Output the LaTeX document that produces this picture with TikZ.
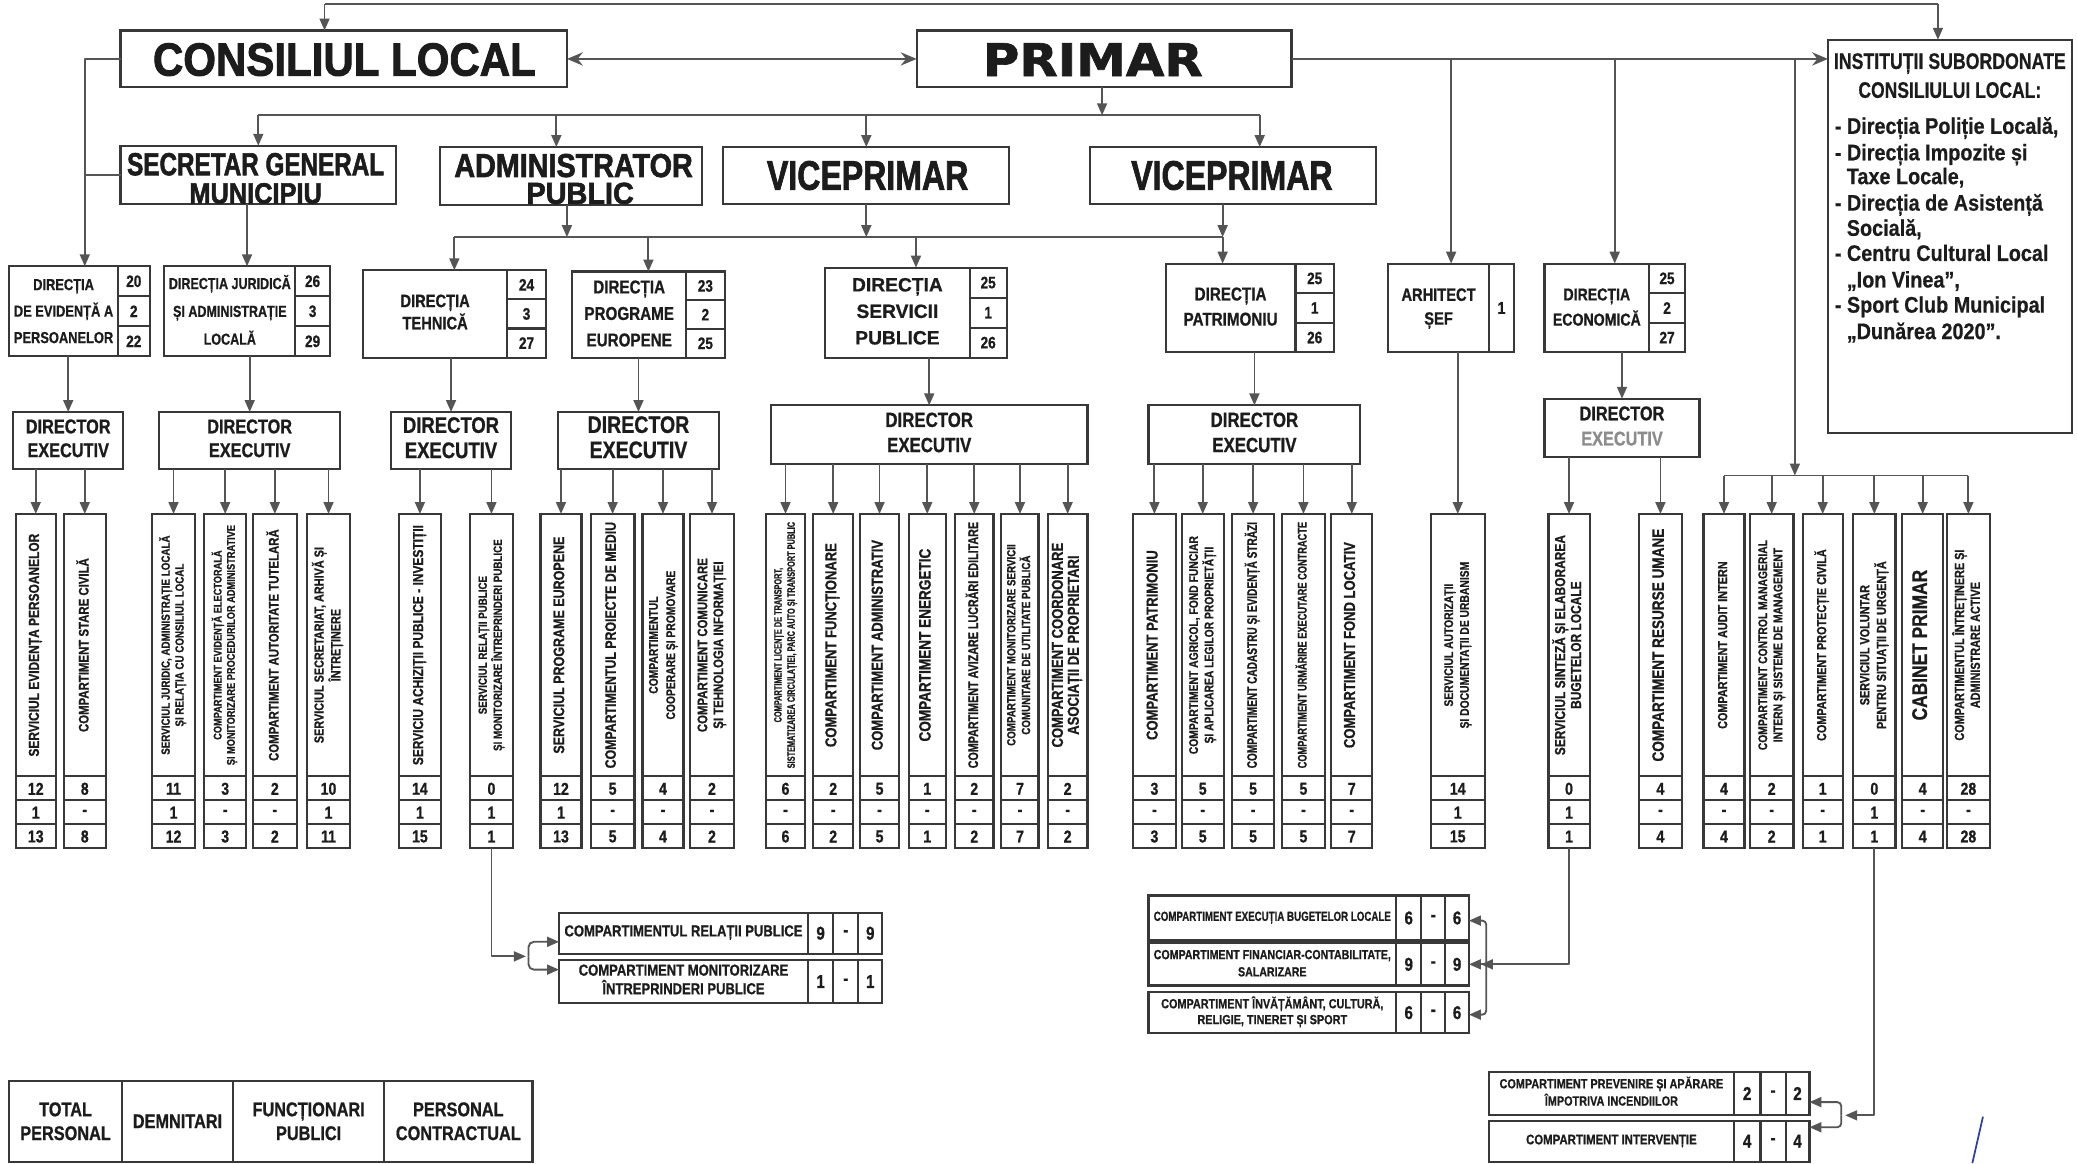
\documentclass[tikz,border=0pt]{standalone}
\usepackage{fontspec}
\setmainfont{Liberation Sans Bold}[FakeStretch=0.82,FakeBold=0.8,BoldFont=Liberation Sans Bold,BoldFeatures={FakeStretch=0.82,FakeBold=0.8}]
\newfontfamily\wid{Liberation Sans Bold}[FakeBold=0.8,BoldFont=Liberation Sans Bold,BoldFeatures={FakeBold=0.8}]
\newfontfamily\nar{Liberation Sans Bold}[FakeStretch=0.88,FakeBold=0.6,BoldFont=Liberation Sans Bold,BoldFeatures={FakeStretch=0.88,FakeBold=0.6}]
\newfontfamily\ttl{Liberation Sans Bold}[FakeBold=2,BoldFont=Liberation Sans Bold,BoldFeatures={FakeBold=2}]
\newfontfamily\dvs{DejaVu Sans Bold}[FakeBold=1.5,BoldFont=DejaVu Sans Bold,BoldFeatures={FakeBold=1.5}]
\usetikzlibrary{arrows.meta,calc}
\definecolor{lc}{HTML}{555555}
\definecolor{bc}{HTML}{383838}
\definecolor{tc}{HTML}{1c1c1c}
\definecolor{pen}{HTML}{2f3f9f}
\newsavebox\fitsave
\newcommand\fitw[2]{\sbox\fitsave{\begin{tabular}{@{}c@{}}#2\end{tabular}}\ifdim\wd\fitsave>#1\relax\resizebox*{#1}{\totalheight}{\usebox\fitsave}\else\usebox\fitsave\fi}
\newcommand\fitx[2]{\sbox\fitsave{#2}\resizebox*{#1}{\totalheight}{\usebox\fitsave}}
\def\numsplit#1,#2,#3\relax{\def\nA{#1}\def\nB{#2}\def\nC{#3}}
\tikzset{
  box/.style={draw=bc,line width=1.6pt,inner sep=0pt,outer sep=0pt,fill=white},
  bline/.style={draw=bc,line width=1.6pt},
  ln/.style={draw=lc,line width=1.4pt,line join=round},
  arr/.style={ln,-{Triangle[length=9pt,width=7.5pt]}},
  txt/.style={inner sep=0pt,text=tc,font=\bfseries},
  num/.style={txt,font=\bfseries\fontsize{13}{13}\selectfont},
}
% vertical box: name x1 x2 font text n1 n2 n3
\newcommand\vertbox[8]{%
  \pgfmathsetmacro\vbxc{(#2+#3)/2}%
  \pgfmathsetmacro\vbxw{#3-#2}%
  \node[box,minimum width=\vbxw pt,minimum height=252pt] (#1) at (\vbxc,514) {};
  \draw[bline] (#2,586) -- (#3,586) (#2,604) -- (#3,604) (#2,622) -- (#3,622);
  \node[txt,rotate=90] at (\vbxc,487) {#4\fitw{186pt}{#5}};
  \node[num] at (\vbxc,595.5) {#6};
  \node[num] at (\vbxc,613.5) {#7};
  \node[num] at (\vbxc,631.5) {#8};
}
% direction box: name x1 y1 x2 y2 xdiv font text nums
\newcommand\dirbox[9]{%
  \pgfmathsetmacro\dbw{#4-#2}\pgfmathsetmacro\dbh{#5-#3}%
  \pgfmathsetmacro\dbx{(#2+#4)/2}\pgfmathsetmacro\dby{(#3+#5)/2}%
  \pgfmathsetmacro\dbt{(#2+#6)/2}\pgfmathsetmacro\dbn{(#6+#4)/2}%
  \pgfmathsetmacro\dbtw{#6-#2-7}%
  \pgfmathsetmacro\dbya{#3+\dbh/3}\pgfmathsetmacro\dbyb{#3+2*\dbh/3}%
  \pgfmathsetmacro\dna{#3+\dbh/6}\pgfmathsetmacro\dnb{#3+\dbh/2}\pgfmathsetmacro\dnc{#3+5*\dbh/6}%
  \node[box,minimum width=\dbw pt,minimum height=\dbh pt] (#1) at (\dbx,\dby) {};
  \draw[bline] (#6,#3) -- (#6,#5) (#6,\dbya) -- (#4,\dbya) (#6,\dbyb) -- (#4,\dbyb);
  \node[txt] at (\dbt,\dby) {#7\fitw{\dbtw pt}{#8}};
  \numsplit#9\relax
  \node[txt,font=\bfseries\fontsize{12.5}{12.5}\selectfont] at (\dbn,\dna) {\nA};
  \node[txt,font=\bfseries\fontsize{12.5}{12.5}\selectfont] at (\dbn,\dnb) {\nB};
  \node[txt,font=\bfseries\fontsize{12.5}{12.5}\selectfont] at (\dbn,\dnc) {\nC};
}
% director box: name x1 y1 x2 y2 font
\newcommand\dexec[6]{%
  \pgfmathsetmacro\dew{#4-#2}\pgfmathsetmacro\deh{#5-#3}%
  \pgfmathsetmacro\dex{(#2+#4)/2}\pgfmathsetmacro\dey{(#3+#5)/2}%
  \node[box,minimum width=\dew pt,minimum height=\deh pt] (#1) at (\dex,\dey) {};
  \node[txt] at (\dex,\dey) {#6\begin{tabular}{@{}c@{}}DIRECTOR\\EXECUTIV\end{tabular}};
}
% horizontal box: name x1 y1 x2 y2 divs font text num
\newcommand\hbx[9]{%
  \pgfmathsetmacro\hbw{#4-#2}\pgfmathsetmacro\hbh{#5-#3}%
  \pgfmathsetmacro\hbcx{(#2+#4)/2}\pgfmathsetmacro\hbcy{(#3+#5)/2}%
  \node[box,minimum width=\hbw pt,minimum height=\hbh pt] (#1) at (\hbcx,\hbcy) {};
  \numsplit#6\relax
  \draw[bline] (\nA,#3) -- (\nA,#5) (\nB,#3) -- (\nB,#5) (\nC,#3) -- (\nC,#5);
  \pgfmathsetmacro\hbt{(#2+\nA)/2}\pgfmathsetmacro\hbtw{\nA-#2-8}%
  \pgfmathsetmacro\hna{(\nA+\nB)/2}\pgfmathsetmacro\hnb{(\nB+\nC)/2}\pgfmathsetmacro\hnc{(\nC+#4)/2}%
  \node[txt] at (\hbt,\hbcy) {#7\fitw{\hbtw pt}{#8}};
  \node[txt,font=\bfseries\fontsize{14}{14}\selectfont] at (\hna,\hbcy) {#9};
  \node[txt,font=\bfseries\fontsize{14}{14}\selectfont] at (\hnb,\hbcy) {-};
  \node[txt,font=\bfseries\fontsize{14}{14}\selectfont] at (\hnc,\hbcy) {#9};
}
\begin{document}
\begin{tikzpicture}[x=1pt,y=-1pt]
\useasboundingbox (0,0) rectangle (1568,878);
\fill[white] (0,0) rectangle (1568,878);

% ---------- top level ----------
\node[box,minimum width=337pt,minimum height=43pt] (cl) at (259.5,44.5) {};
\node[txt] at (260,45) {\ttl\fontsize{35}{35}\selectfont\fitx{289pt}{CONSILIUL LOCAL}};
\node[box,minimum width=283pt,minimum height=43pt] (pr) at (833.5,44.5) {};
\node[txt] at (825,45) {\dvs\fontsize{34}{34}\selectfont\fitx{166pt}{PRIMAR}};
\node[box,minimum width=184pt,minimum height=297pt] (inst) at (1472,178.5) {};
\node[txt] at (1472,48) {\nar\fontsize{17}{17}\selectfont\fitx{175pt}{INSTITUȚII SUBORDONATE}};
\node[txt] at (1472,68) {\nar\fontsize{17}{17}\selectfont\fitx{138pt}{CONSILIULUI LOCAL:}};
\tikzset{il/.style={txt,anchor=base west,font=\nar\bfseries\fontsize{17}{17}\selectfont}}
\node[il] at (1385,101) {- Direcția Poliție Locală,};
\node[il] at (1385,121) {- Direcția Impozite și};
\node[il] at (1394,139) {Taxe Locale,};
\node[il] at (1385,159) {- Direcția de Asistență};
\node[il] at (1394,178) {Socială,};
\node[il] at (1385,197) {- Centru Cultural Local};
\node[il] at (1394,217) {„Ion Vinea”,};
\node[il] at (1385,236) {- Sport Club Municipal};
\node[il] at (1394,256) {„Dunărea 2020”.};

% ---------- second level ----------
\node[box,minimum width=208pt,minimum height=44pt] (sg) at (195,132) {};
\node[txt] at (193,124) {\ttl\fontsize{24}{24}\selectfont\fitx{194pt}{SECRETAR GENERAL}};
\node[txt] at (193,146) {\ttl\fontsize{22}{22}\selectfont\fitx{100pt}{MUNICIPIU}};
\node[box,minimum width=198pt,minimum height=44pt] (ap) at (431,133) {};
\node[txt] at (433,125) {\ttl\fontsize{25}{25}\selectfont\fitx{180pt}{ADMINISTRATOR}};
\node[txt] at (438,146) {\ttl\fontsize{23}{23}\selectfont\fitx{81pt}{PUBLIC}};
\node[box,minimum width=216pt,minimum height=43pt] (v1) at (654,132.5) {};
\node[txt] at (655,132.5) {\ttl\fontsize{31}{31}\selectfont\fitx{152pt}{VICEPRIMAR}};
\node[box,minimum width=216pt,minimum height=43pt] (v2) at (931,132.5) {};
\node[txt] at (930,132.5) {\ttl\fontsize{31}{31}\selectfont\fitx{152pt}{VICEPRIMAR}};

% ---------- directions ----------
\dirbox{d1}{7}{201}{113}{269}{89}{\fontsize{12}{20}\selectfont}{DIRECȚIA\\DE EVIDENȚĂ A\\PERSOANELOR}{20,2,22}
\dirbox{d2}{124}{201}{249}{269}{223}{\fontsize{12}{21}\selectfont}{DIRECȚIA JURIDICĂ\\ȘI ADMINISTRAȚIE\\LOCALĂ}{26,3,29}
\dirbox{d3}{274}{204}{412}{270}{383}{\fontsize{13.5}{16}\selectfont}{DIRECȚIA\\TEHNICĂ}{24,3,27}
\dirbox{d4}{432}{205}{547}{270}{518}{\fontsize{14}{20}\selectfont}{DIRECȚIA\\PROGRAME\\EUROPENE}{23,2,25}
\dirbox{d5}{623}{202}{760}{270}{732}{\wid\fontsize{14.5}{20}\selectfont}{DIRECȚIA\\SERVICII\\PUBLICE}{25,1,26}
\dirbox{d6}{880}{199}{1007}{266}{978}{\fontsize{14}{19}\selectfont}{DIRECȚIA\\PATRIMONIU}{25,1,26}
\dirbox{d8}{1166}{199}{1272}{266}{1245}{\fontsize{13}{19}\selectfont}{DIRECȚIA\\ECONOMICĂ}{25,2,27}
\node[box,minimum width=95pt,minimum height=67pt] (d7) at (1095.5,232.5) {};
\draw[bline] (1124,199) -- (1124,266);
\node[txt] at (1086,232.5) {\fontsize{13.5}{18}\selectfont\fitw{70pt}{ARHITECT\\ȘEF}};
\node[txt,font=\bfseries\fontsize{13}{13}\selectfont] at (1133.5,232.5) {1};

% ---------- directors ----------
\dexec{e1}{10}{311}{93}{354}{\fontsize{15}{18}\selectfont}
\dexec{e2}{120}{311}{257}{354}{\fontsize{15}{18}\selectfont}
\dexec{e3}{295}{311}{386}{354}{\fontsize{17}{19}\selectfont}
\dexec{e4}{421}{311}{543}{354}{\fontsize{18}{19}\selectfont}
\dexec{e5}{582}{306}{821}{350}{\fontsize{15.5}{19}\selectfont}
\dexec{e6}{867}{306}{1027}{350}{\fontsize{15.5}{19}\selectfont}
\node[box,minimum width=117pt,minimum height=44pt] (e7) at (1224.5,323) {};
\node[txt] at (1224.5,323) {\fontsize{15}{19}\selectfont\begin{tabular}{@{}c@{}}DIRECTOR\\\textcolor{black!45}{EXECUTIV}\end{tabular}};

% ---------- vertical boxes ----------
\vertbox{A1}{12}{42}{\fontsize{11}{12}\selectfont}{SERVICIUL EVIDENȚA PERSOANELOR}{12}{1}{13}
\vertbox{A2}{48}{80}{\fontsize{10.5}{12}\selectfont}{COMPARTIMENT STARE CIVILĂ}{8}{-}{8}
\vertbox{B1}{115}{147}{\fontsize{9}{10.5}\selectfont}{SERVICIUL JURIDIC, ADMINISTRAȚIE LOCALĂ\\ȘI RELAȚIA CU CONSILIUL LOCAL}{11}{1}{12}
\vertbox{B2}{154}{186}{\fontsize{8.5}{10}\selectfont}{COMPARTIMENT EVIDENȚĂ ELECTORALĂ\\ȘI MONITORIZARE PROCEDURILOR ADMINISTRATIVE}{3}{-}{3}
\vertbox{B3}{191}{224}{\fontsize{10.5}{12}\selectfont}{COMPARTIMENT AUTORITATE TUTELARĂ}{2}{-}{2}
\vertbox{B4}{232}{264}{\fontsize{10}{12}\selectfont}{SERVICIUL SECRETARIAT, ARHIVĂ ȘI\\ÎNTREȚINERE}{10}{1}{11}
\vertbox{C1}{301}{333}{\fontsize{11}{12}\selectfont}{SERVICIU ACHIZIȚII PUBLICE - INVESTIȚII}{14}{1}{15}
\vertbox{C2}{355}{387}{\fontsize{9}{11}\selectfont}{SERVICIUL RELAȚII PUBLICE\\ȘI MONITORIZARE ÎNTREPRINDERI PUBLICE}{0}{1}{1}
\vertbox{D1}{408}{439}{\fontsize{11.5}{12}\selectfont}{SERVICIUL PROGRAME EUROPENE}{12}{1}{13}
\vertbox{D2}{446}{479}{\fontsize{11.5}{12}\selectfont}{COMPARTIMENTUL PROIECTE DE MEDIU}{5}{-}{5}
\vertbox{D3}{485}{516}{\fontsize{9.5}{13}\selectfont}{COMPARTIMENTUL\\COOPERARE ȘI PROMOVARE}{4}{-}{4}
\vertbox{D4}{521}{554}{\fontsize{10.5}{12}\selectfont}{COMPARTIMENT COMUNICARE\\ȘI TEHNOLOGIA INFORMAȚIEI}{2}{-}{2}
\vertbox{E1}{578}{608}{\fontsize{8}{10}\selectfont}{COMPARTIMENT LICENȚE DE TRANSPORT,\\SISTEMATIZAREA CIRCULAȚIEI, PARC AUTO ȘI TRANSPORT PUBLIC}{6}{-}{6}
\vertbox{E2}{614}{644}{\fontsize{12}{12}\selectfont}{COMPARTIMENT FUNCȚIONARE}{2}{-}{2}
\vertbox{E3}{649}{679}{\fontsize{12}{12}\selectfont}{COMPARTIMENT ADMINISTRATIV}{5}{-}{5}
\vertbox{E4}{686}{714}{\fontsize{12.5}{12}\selectfont}{COMPARTIMENT ENERGETIC}{1}{-}{1}
\vertbox{E5}{721}{750}{\fontsize{10.5}{12}\selectfont}{COMPARTIMENT AVIZARE LUCRĂRI EDILITARE}{2}{-}{2}
\vertbox{E6}{756}{784}{\fontsize{9}{10.5}\selectfont}{COMPARTIMENT MONITORIZARE SERVICII\\COMUNITARE DE UTILITATE PUBLICĂ}{7}{-}{7}
\vertbox{E7}{791}{821}{\fontsize{12}{12}\selectfont}{COMPARTIMENT COORDONARE\\ASOCIAȚII DE PROPRIETARI}{2}{-}{2}
\vertbox{F1}{855}{888}{\fontsize{12}{12}\selectfont}{COMPARTIMENT PATRIMONIU}{3}{-}{3}
\vertbox{F2}{892}{924}{\fontsize{9.5}{11}\selectfont}{COMPARTIMENT AGRICOL, FOND FUNCIAR\\ȘI APLICAREA LEGILOR PROPRIETĂȚII}{5}{-}{5}
\vertbox{F3}{930}{962}{\fontsize{10.5}{12}\selectfont}{COMPARTIMENT CADASTRU ȘI EVIDENȚĂ STRĂZI}{5}{-}{5}
\vertbox{F4}{968}{1000}{\fontsize{9.5}{12}\selectfont}{COMPARTIMENT URMĂRIRE EXECUTARE CONTRACTE}{5}{-}{5}
\vertbox{F5}{1005}{1036}{\fontsize{12}{12}\selectfont}{COMPARTIMENT FOND LOCATIV}{7}{-}{7}
\vertbox{G1}{1080}{1121}{\fontsize{9.5}{12}\selectfont}{SERVICIUL AUTORIZAȚII\\ȘI DOCUMENTAȚII DE URBANISM}{14}{1}{15}
\vertbox{H1}{1169}{1200}{\fontsize{11}{12}\selectfont}{SERVICIUL SINTEZĂ ȘI ELABORAREA\\BUGETELOR LOCALE}{0}{1}{1}
\vertbox{H2}{1237}{1270}{\fontsize{12.5}{12}\selectfont}{COMPARTIMENT RESURSE UMANE}{4}{-}{4}
\vertbox{R1}{1286}{1317}{\fontsize{10}{12}\selectfont}{COMPARTIMENT AUDIT INTERN}{4}{-}{4}
\vertbox{R2}{1321}{1354}{\fontsize{9.5}{11.5}\selectfont}{COMPARTIMENT CONTROL MANAGERIAL\\INTERN ȘI SISTEME DE MANAGEMENT}{2}{-}{2}
\vertbox{R3}{1361}{1391}{\fontsize{10}{12}\selectfont}{COMPARTIMENT PROTECȚIE CIVILĂ}{1}{-}{1}
\vertbox{R4}{1399}{1431}{\fontsize{10}{12.5}\selectfont}{SERVICIUL VOLUNTAR\\PENTRU SITUAȚII DE URGENȚĂ}{0}{1}{1}
\vertbox{R5}{1436}{1467}{\fontsize{16}{16}\selectfont}{CABINET PRIMAR}{4}{-}{4}
\vertbox{R6}{1470}{1502}{\fontsize{10}{12}\selectfont}{COMPARTIMENTUL ÎNTREȚINERE ȘI\\ADMINISTRARE ACTIVE}{28}{-}{28}

% ---------- bottom horizontal boxes ----------
\hbx{rp}{422}{689}{666}{720}{610,629,648}{\fontsize{12}{12}\selectfont}{COMPARTIMENTUL RELAȚII PUBLICE}{9}
\hbx{mip}{422}{725}{666}{757}{610,629,648}{\fontsize{12}{11}\selectfont}{COMPARTIMENT MONITORIZARE\\ÎNTREPRINDERI PUBLICE}{1}
\hbx{eb}{867}{676}{1109}{710}{1054,1073,1091}{\fontsize{10}{11}\selectfont}{COMPARTIMENT EXECUȚIA BUGETELOR LOCALE}{6}
\hbx{fc}{867}{712}{1109}{744}{1054,1073,1091}{\fontsize{10}{13}\selectfont}{COMPARTIMENT FINANCIAR-CONTABILITATE,\\SALARIZARE}{9}
\hbx{ic}{867}{749}{1109}{780}{1054,1073,1091}{\fontsize{10}{12}\selectfont}{COMPARTIMENT ÎNVĂȚĂMÂNT, CULTURĂ,\\RELIGIE, TINERET ȘI SPORT}{6}
\hbx{pv}{1124}{809}{1366}{842}{1309,1329,1348}{\fontsize{10}{13}\selectfont}{COMPARTIMENT PREVENIRE ȘI APĂRARE\\ÎMPOTRIVA INCENDIILOR}{2}
\hbx{iv}{1124}{846}{1366}{877}{1309,1329,1348}{\fontsize{10.5}{12}\selectfont}{COMPARTIMENT INTERVENȚIE}{4}

% ---------- legend ----------
\node[box,minimum width=395pt,minimum height=61pt] (lg) at (204.5,846.5) {};
\draw[bline] (92,816) -- (92,877) (176,816) -- (176,877) (290,816) -- (290,877);
\tikzset{lgt/.style={txt,font=\bfseries\fontsize{15}{18}\selectfont,align=center}}
\node[lgt] at (49.5,846.5) {TOTAL\\PERSONAL};
\node[lgt] at (134,846.5) {DEMNITARI};
\node[lgt] at (233,846.5) {FUNCȚIONARI\\PUBLICI};
\node[lgt] at (346,846.5) {PERSONAL\\CONTRACTUAL};

% ---------- connectors ----------
\coordinate (t1) at (245,3);
\coordinate (t2) at (1463,3);
\draw[ln] (t1) -- (t2);
\draw[arr] (t1) -- (t1 |- cl.north);
\draw[arr] (t2) -- (t2 |- inst.north);
\draw[ln,{Stealth[length=12pt,width=10pt,inset=4pt]}-{Stealth[length=12pt,width=10pt,inset=4pt]}] (cl.east) -- (pr.west);

\draw[ln,-{Stealth[length=12pt,width=10pt,inset=4pt]}] (pr.east) -- (pr.east -| inst.west);
\draw[arr] (pr.east -| d7.north) -- (d7.north);
\draw[arr] (pr.east -| d8.north) -- (d8.north);
\coordinate (rg) at (1355,359);
\draw[arr] (pr.east -| rg) -- (rg);
\draw[ln] (R1.north |- rg) -- (R6.north |- rg);
\foreach \r in {R1,R2,R3,R4,R5,R6} \draw[arr] (\r.north |- rg) -- (\r.north);

\coordinate (h1) at (832,87);
\draw[arr] (pr.south -| h1) -- (h1);
\draw[ln] (sg.north |- h1) -- ($(v2.north |- h1)+(20,0)$);
\draw[arr] (sg.north |- h1) -- (sg.north);
\draw[arr] ($(ap.north |- h1)+(-11,0)$) -- ($(ap.north)+(-11,0)$);
\draw[arr] (v1.north |- h1) -- (v1.north);
\draw[arr] ($(v2.north |- h1)+(20,0)$) -- ($(v2.north)+(20,0)$);

\coordinate (lv) at (64,44.5);
\draw[arr] (cl.west) -- (lv) -- (lv |- d1.north);
\draw[ln] (sg.west) -- (sg.west -| lv);
\draw[arr] (sg.south -| d2.north) -- (d2.north);

\coordinate (h2) at (428,179);
\coordinate (h2r) at (923,179);
\draw[arr] (ap.south -| h2) -- (h2);
\draw[ln] (d3.north |- h2) -- (h2r);
\draw[arr] (d3.north |- h2) -- (d3.north);
\draw[arr] (d4.north |- h2) -- (d4.north);
\draw[arr] (v1.south) -- (v1.south |- h2);
\draw[arr] (d5.north |- h2) -- (d5.north);
\draw[arr] (v2.south -| h2r) -- (h2r);
\draw[arr] (h2r) -- (h2r |- d6.north);

\draw[arr] (d1.south -| e1.north) -- (e1.north);
\draw[arr] (d2.south -| e2.north) -- (e2.north);
\draw[arr] (d3.south -| e3.north) -- (e3.north);
\draw[arr] (d4.south -| e4.north) -- (e4.north);
\draw[arr] (d5.south -| e5.north) -- (e5.north);
\draw[arr] (d6.south -| e6.north) -- (e6.north);
\draw[arr] (d8.south -| e7.north) -- (e7.north);
\draw[arr] (d7.south -| G1.north) -- (G1.north);

\foreach \b in {A1,A2} \draw[arr] (e1.south -| \b.north) -- (\b.north);
\foreach \b in {B1,B2,B3,B4} \draw[arr] (e2.south -| \b.north) -- (\b.north);
\foreach \b in {C1,C2} \draw[arr] (e3.south -| \b.north) -- (\b.north);
\foreach \b in {D1,D2,D3,D4} \draw[arr] (e4.south -| \b.north) -- (\b.north);
\foreach \b in {E1,E2,E3,E4,E5,E6,E7} \draw[arr] (e5.south -| \b.north) -- (\b.north);
\foreach \b in {F1,F2,F3,F4,F5} \draw[arr] (e6.south -| \b.north) -- (\b.north);
\foreach \b in {H1,H2} \draw[arr] (e7.south -| \b.north) -- (\b.north);

% bracket to relatii publice
\coordinate (ba) at (397,722);
\coordinate (ba1) at (399,711);
\coordinate (ba2) at (399,732);
\draw[arr] (C2.south) |- (ba);
\draw[arr,rounded corners=4pt] (ba1 |- ba) -- (ba1) -- (rp.west |- ba1);
\draw[arr,rounded corners=4pt] (ba2 |- ba) -- (ba2) -- (mip.west |- ba2);

% bracket economica
\coordinate (bb1) at (1122,695);
\coordinate (bb2) at (1122,766);
\draw[ln,-{Triangle[length=9pt,width=7.5pt]Triangle[length=9pt,width=7.5pt]}] (H1.south) |- (fc.east);
\draw[arr,rounded corners=3pt] (bb1 |- fc.east) -- (bb1) -- (eb.east |- bb1);
\draw[arr,rounded corners=3pt] (bb2 |- fc.east) -- (bb2) -- (ic.east |- bb2);

% bracket situatii de urgenta
\coordinate (bcm) at (1393,842);
\coordinate (bc1) at (1390,832);
\coordinate (bc2) at (1390,851);
\draw[arr] (R4.south) |- (bcm);
\draw[arr,rounded corners=3pt] (bc1 |- bcm) -- (bc1) -- (pv.east |- bc1);
\draw[arr,rounded corners=3pt] (bc2 |- bcm) -- (bc2) -- (iv.east |- bc2);

% pen stroke
\draw[pen,line width=1.3pt] (1497,843) -- (1489,878);
\end{tikzpicture}
\end{document}
